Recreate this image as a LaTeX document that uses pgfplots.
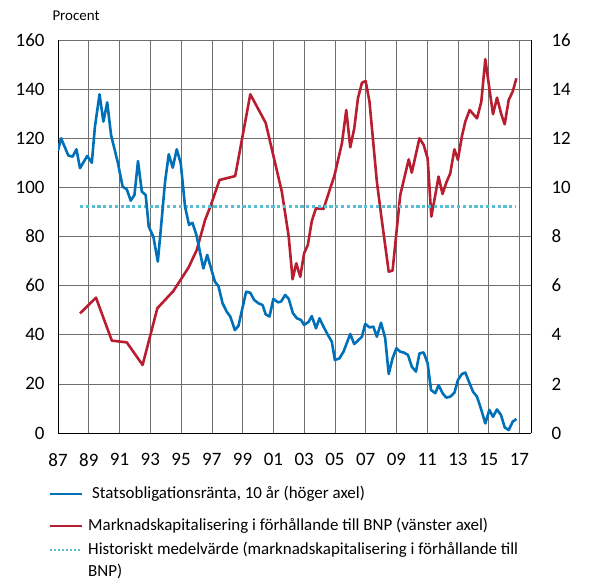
\documentclass[border=0pt]{standalone}
\usepackage{fontspec}
\setmainfont{Carlito}
\usepackage{pgfplots}
\pgfplotsset{compat=1.18}
\definecolor{rbblue}{RGB}{0,112,185}
\definecolor{rbred}{RGB}{185,30,48}
\definecolor{rbcyan}{RGB}{90,190,210}
\definecolor{gridgray}{RGB}{110,110,110}
\begin{document}
\begin{tikzpicture}
\useasboundingbox (-58bp,-153bp) rectangle (548bp,433bp);
\pgfplotsset{
  common/.style={
    scale only axis, width=473bp, height=393bp,
    xmin=1987, xmax=2017.75,
    major tick length=0pt,
    tick label style={font=\fontsize{19}{22}\selectfont},
    /pgf/number format/assume math mode=true,
    axis line style={black, line width=0.9bp},
  },
  lw/.style={line width=2.6bp, line join=round},
}
\begin{axis}[common,
  ymin=0, ymax=160, ytick={0,20,...,160},
  xtick={1987,1989,...,2017},
  xticklabels={87,89,91,93,95,97,99,01,03,05,07,09,11,13,15,17},
  axis x line*=bottom, axis y line*=left,
  grid=major, major grid style={gridgray, line width=0.6bp},
  yticklabel style={xshift=-10bp},
  xticklabel style={yshift=-17bp},
]
\addplot[rbred, lw] coordinates {
(1988.43,48.7) (1989.47,55.1) (1990.5,37.6) (1991.47,36.9) (1992.5,27.7)
(1993.46,50.8) (1994.5,57.8) (1995.48,67.3) (1996.02,74.5) (1996.56,86.7)
(1996.9,92.1) (1997.5,103) (1998.52,104.6) (1999.5,137.9) (2000.5,126.3)
(2001.55,98.3) (2002.0,79.9) (2002.25,62.6) (2002.49,69.1) (2002.75,63.6)
(2003.0,73.2) (2003.24,76.5) (2003.5,86.3) (2003.77,91.5) (2004.26,91.2)
(2004.98,105) (2005.46,118) (2005.74,131.5) (2006.0,116.3) (2006.26,124)
(2006.5,136.3) (2006.76,142.6) (2007.0,143.3) (2007.25,134.9) (2007.73,102.3)
(2008.05,86.7) (2008.5,65.7) (2008.75,66.1) (2009.25,96.9) (2009.8,111.4)
(2010.0,106) (2010.5,120) (2010.77,117.3) (2011.03,111.8) (2011.27,88.1)
(2011.53,96.9) (2011.74,104.4) (2012.0,97.3) (2012.24,101.9) (2012.5,105.7)
(2012.77,115.5) (2013.0,111.2) (2013.26,120.9) (2013.48,126.8) (2013.76,131.5)
(2014.24,128.1) (2014.52,134.9) (2014.78,152.2) (2015.04,140.4) (2015.28,129.8)
(2015.54,136.5) (2015.8,130.2) (2016.04,125.7) (2016.3,135.6) (2016.56,139)
(2016.8,144.4)
};
\addplot[rbcyan, line width=2.8bp, dash pattern=on 3.2bp off 2.6bp] coordinates {(1988.43,92.3) (2016.8,92.3)};
\end{axis}
\begin{axis}[common,
  ymin=0, ymax=16, ytick={0,2,...,16},
  axis y line*=right, axis x line=none,
  yticklabel style={xshift=17bp},
]
\addplot[rbblue, lw] coordinates {
(1987.0,11.5) (1987.2,12.0) (1987.67,11.3) (1987.95,11.25) (1988.2,11.55)
(1988.43,10.78) (1988.9,11.28) (1989.2,11.0) (1989.4,12.47) (1989.7,13.79)
(1989.95,12.68) (1990.2,13.46) (1990.45,12.13) (1990.9,10.98) (1991.2,10.03)
(1991.47,9.92) (1991.73,9.46) (1991.97,9.69) (1992.2,11.07) (1992.45,9.83)
(1992.7,9.69) (1992.9,8.4) (1993.2,7.99) (1993.49,6.98) (1993.68,8.27)
(1993.96,10.23) (1994.2,11.35) (1994.46,10.8) (1994.72,11.55) (1994.98,10.98)
(1995.26,9.21) (1995.52,8.47) (1995.74,8.56) (1996.0,8.06) (1996.45,6.7)
(1996.7,7.25) (1997.2,6.16) (1997.43,5.98) (1997.7,5.28) (1997.97,4.94)
(1998.2,4.74) (1998.5,4.19) (1998.73,4.36) (1999.23,5.75) (1999.5,5.71)
(1999.75,5.42) (2000.03,5.28) (2000.3,5.21) (2000.5,4.83) (2000.75,4.74)
(2001.0,5.46) (2001.3,5.32) (2001.5,5.35) (2001.77,5.62) (2002.0,5.46)
(2002.27,4.88) (2002.53,4.67) (2002.8,4.6) (2003.0,4.4) (2003.3,4.53)
(2003.5,4.76) (2003.77,4.26) (2004.0,4.67) (2004.26,4.33) (2004.52,4.02)
(2004.8,3.72) (2005.0,2.97) (2005.3,3.04) (2005.56,3.31) (2006.0,4.03)
(2006.26,3.62) (2006.76,3.92) (2006.97,4.44) (2007.25,4.3) (2007.5,4.33)
(2007.73,3.92) (2008.0,4.49) (2008.27,3.86) (2008.5,2.4) (2008.75,3.04)
(2009.0,3.45) (2009.25,3.31) (2009.5,3.27) (2009.75,3.18) (2010.0,2.7)
(2010.27,2.5) (2010.5,3.24) (2010.77,3.28) (2011.03,2.84) (2011.25,1.75)
(2011.53,1.62) (2011.74,1.95) (2012.0,1.62) (2012.24,1.44) (2012.5,1.48)
(2012.77,1.64) (2013.0,2.16) (2013.26,2.4) (2013.48,2.46) (2013.76,2.02)
(2013.98,1.68) (2014.24,1.48) (2014.52,0.94) (2014.78,0.39) (2015.04,0.94)
(2015.28,0.66) (2015.54,0.96) (2015.8,0.73) (2016.04,0.23) (2016.3,0.12)
(2016.56,0.46) (2016.8,0.57)
};
\end{axis}
% legend
\begin{scope}[every node/.style={anchor=west, inner sep=0pt, text height=12bp, text depth=4bp,
    font=\fontsize{17}{20}\selectfont}]
\draw[rbblue, line width=2.6bp] (-8bp,-61bp) -- (24bp,-61bp);
\node at (34bp,-61bp) {Statsobligationsränta, 10 år (höger axel)};
\draw[rbred, line width=2.6bp] (-8bp,-93bp) -- (24bp,-93bp);
\node at (30bp,-93bp) {Marknadskapitalisering i förhållande till BNP (vänster axel)};
\draw[rbcyan, line width=2.8bp, dash pattern=on 2.4bp off 1.6bp] (-8bp,-117bp) -- (24bp,-117bp);
\node at (30bp,-117bp) {Historiskt medelvärde (marknadskapitalisering i förhållande till};
\node at (30bp,-139bp) {BNP)};
\end{scope}
\node[anchor=west, font=\fontsize{15}{18}\selectfont] at (-9bp,417bp) {Procent};
\end{tikzpicture}
\end{document}
